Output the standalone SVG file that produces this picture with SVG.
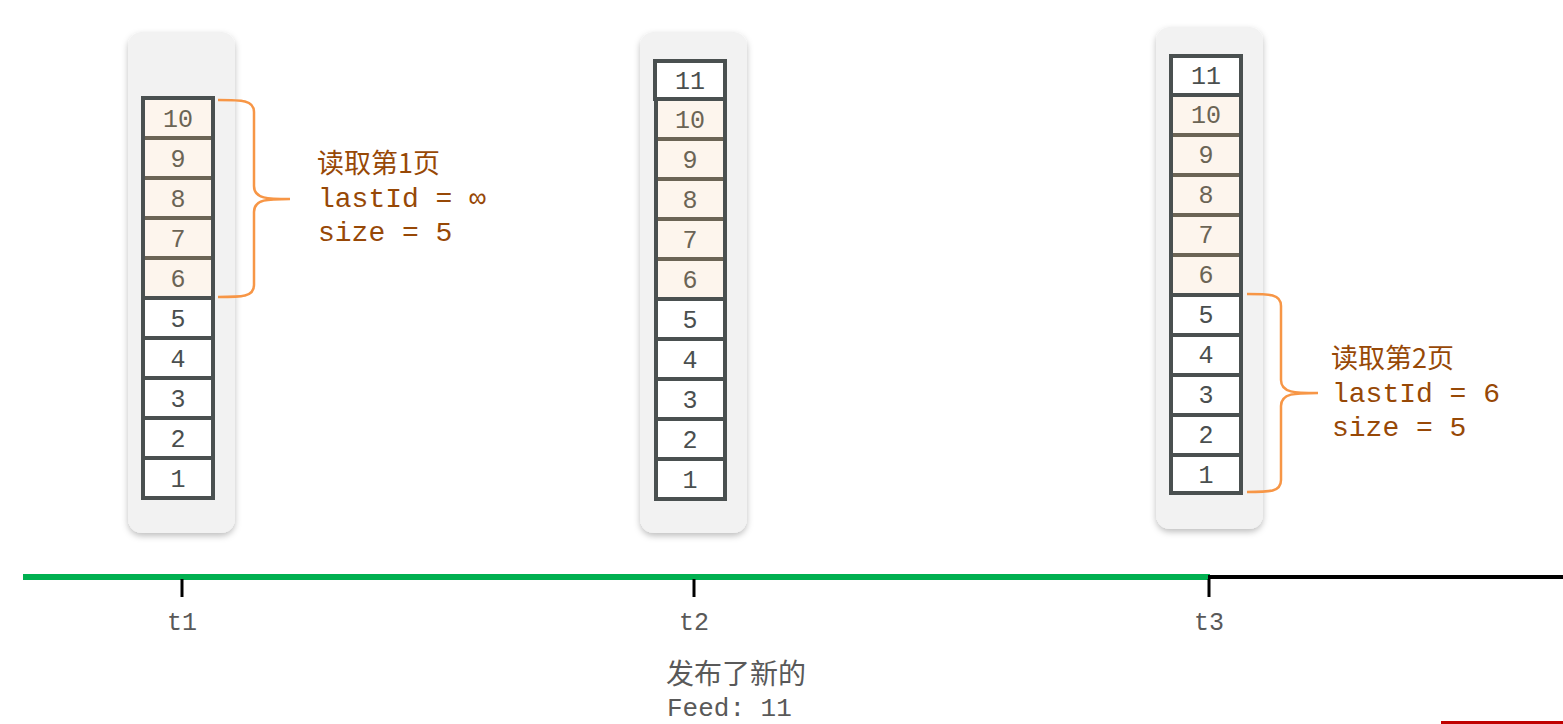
<svg xmlns="http://www.w3.org/2000/svg" width="1563" height="724" viewBox="0 0 1563 724">
<defs>
<filter id="sh" x="-20%" y="-10%" width="140%" height="120%">
<feDropShadow dx="0" dy="3" stdDeviation="3" flood-color="#000" flood-opacity="0.25"/>
</filter>
<style>
.panel{fill:#f2f2f2;filter:url(#sh)}
.cw{fill:#ffffff;stroke:#4a5050;stroke-width:4}
.cp{fill:#fdf5ed;stroke:#4a5050;stroke-width:4}
.div{stroke:#6b6455;stroke-width:4}
.nw{font-family:"Liberation Mono","DejaVu Sans Mono",monospace;font-size:25px;fill:#4a4f4f;text-anchor:middle}
.np{font-family:"Liberation Mono","DejaVu Sans Mono",monospace;font-size:25px;fill:#6b6455;text-anchor:middle}
.brace{fill:none;stroke:#f79646;stroke-width:2.5}
.lbl{font-family:"Liberation Mono","DejaVu Sans Mono",monospace;font-size:28px;fill:#974806}
.lblc{font-family:"Noto Sans CJK SC",sans-serif;font-size:27px;fill:#974806}
.t{font-family:"Liberation Mono","DejaVu Sans Mono",monospace;font-size:25px;fill:#595959;text-anchor:middle}
.tf{font-family:"Liberation Mono","DejaVu Sans Mono",monospace;font-size:26px;fill:#595959}
.tc{font-family:"Noto Sans CJK SC",sans-serif;font-size:28px;fill:#595959}
.tick{stroke:#000;stroke-width:3}
</style>
</defs>
<rect width="1563" height="724" fill="#ffffff"/>

<g id="stack-t1">
<rect class="panel" x="128" y="32" width="107" height="501" rx="14"/>
<rect class="cp" x="143" y="98" width="70" height="40"/>
<rect class="cp" x="143" y="138" width="70" height="40"/>
<rect class="cp" x="143" y="178" width="70" height="40"/>
<rect class="cp" x="143" y="218" width="70" height="40"/>
<rect class="cp" x="143" y="258" width="70" height="40"/>
<line class="div" x1="145" y1="138" x2="211" y2="138"/>
<line class="div" x1="145" y1="178" x2="211" y2="178"/>
<line class="div" x1="145" y1="218" x2="211" y2="218"/>
<line class="div" x1="145" y1="258" x2="211" y2="258"/>
<rect class="cw" x="143" y="298" width="70" height="40"/>
<rect class="cw" x="143" y="338" width="70" height="40"/>
<rect class="cw" x="143" y="378" width="70" height="40"/>
<rect class="cw" x="143" y="418" width="70" height="40"/>
<rect class="cw" x="143" y="458" width="70" height="40"/>
<text class="np" x="178" y="127">10</text>
<text class="np" x="178" y="167">9</text>
<text class="np" x="178" y="207">8</text>
<text class="np" x="178" y="247">7</text>
<text class="np" x="178" y="287">6</text>
<text class="nw" x="178" y="327">5</text>
<text class="nw" x="178" y="367">4</text>
<text class="nw" x="178" y="407">3</text>
<text class="nw" x="178" y="447">2</text>
<text class="nw" x="178" y="487">1</text>
</g>

<g id="stack-t2">
<rect class="panel" x="640" y="32" width="107" height="501" rx="14"/>
<rect class="cw" x="655" y="61" width="70" height="38"/>
<rect class="cp" x="656" y="99" width="69" height="40"/>
<rect class="cp" x="656" y="139" width="69" height="40"/>
<rect class="cp" x="656" y="179" width="69" height="40"/>
<rect class="cp" x="656" y="219" width="69" height="40"/>
<rect class="cp" x="656" y="259" width="69" height="40"/>
<line class="div" x1="658" y1="139" x2="723" y2="139"/>
<line class="div" x1="658" y1="179" x2="723" y2="179"/>
<line class="div" x1="658" y1="219" x2="723" y2="219"/>
<line class="div" x1="658" y1="259" x2="723" y2="259"/>
<rect class="cw" x="656" y="299" width="69" height="40"/>
<rect class="cw" x="656" y="339" width="69" height="40"/>
<rect class="cw" x="656" y="379" width="69" height="40"/>
<rect class="cw" x="656" y="419" width="69" height="40"/>
<rect class="cw" x="656" y="459" width="69" height="40"/>
<text class="nw" x="690" y="89">11</text>
<text class="np" x="690" y="128">10</text>
<text class="np" x="690" y="168">9</text>
<text class="np" x="690" y="208">8</text>
<text class="np" x="690" y="248">7</text>
<text class="np" x="690" y="288">6</text>
<text class="nw" x="690" y="328">5</text>
<text class="nw" x="690" y="368">4</text>
<text class="nw" x="690" y="408">3</text>
<text class="nw" x="690" y="448">2</text>
<text class="nw" x="690" y="488">1</text>
</g>

<g id="stack-t3">
<rect class="panel" x="1156" y="27" width="107" height="502" rx="14"/>
<rect class="cw" x="1171" y="56" width="70" height="39"/>
<rect class="cp" x="1171" y="95" width="70" height="40"/>
<rect class="cp" x="1171" y="135" width="70" height="40"/>
<rect class="cp" x="1171" y="175" width="70" height="40"/>
<rect class="cp" x="1171" y="215" width="70" height="40"/>
<rect class="cp" x="1171" y="255" width="70" height="40"/>
<line class="div" x1="1173" y1="135" x2="1239" y2="135"/>
<line class="div" x1="1173" y1="175" x2="1239" y2="175"/>
<line class="div" x1="1173" y1="215" x2="1239" y2="215"/>
<line class="div" x1="1173" y1="255" x2="1239" y2="255"/>
<rect class="cw" x="1171" y="295" width="70" height="40"/>
<rect class="cw" x="1171" y="335" width="70" height="40"/>
<rect class="cw" x="1171" y="375" width="70" height="40"/>
<rect class="cw" x="1171" y="415" width="70" height="40"/>
<rect class="cw" x="1171" y="455" width="70" height="38"/>
<text class="nw" x="1206" y="84">11</text>
<text class="np" x="1206" y="123">10</text>
<text class="np" x="1206" y="163">9</text>
<text class="np" x="1206" y="203">8</text>
<text class="np" x="1206" y="243">7</text>
<text class="np" x="1206" y="283">6</text>
<text class="nw" x="1206" y="323">5</text>
<text class="nw" x="1206" y="363">4</text>
<text class="nw" x="1206" y="403">3</text>
<text class="nw" x="1206" y="443">2</text>
<text class="nw" x="1206" y="483">1</text>
</g>

<g id="connectors">
<path class="brace" d="M218,100 C242,100 254,100 254,112 L254,186 C254,199 268,199 290,199 C268,199 254,199 254,212 L254,285 C254,297 242,297 218,297"/>
<path class="brace" d="M1247,294 C1270,294 1281,294 1281,306 L1281,380 C1281,393 1295,393 1318,393 C1295,393 1281,393 1281,406 L1281,480 C1281,492 1270,492 1247,492"/>
<line x1="23" y1="577" x2="1210" y2="577" stroke="#00b050" stroke-width="6"/>
<line x1="1208" y1="577" x2="1563" y2="577" stroke="#000" stroke-width="4"/>
<line class="tick" x1="182" y1="579" x2="182" y2="597"/>
<line class="tick" x1="694" y1="579" x2="694" y2="597"/>
<line class="tick" x1="1209" y1="579" x2="1209" y2="597"/>
</g>

<g id="label-page1">
<text class="lblc" x="317" y="173">读取第1页</text>
<text class="lbl" x="318" y="207">lastId = ∞</text>
<text class="lbl" x="318" y="241">size = 5</text>
</g>

<g id="label-page2">
<text class="lblc" x="1331" y="368">读取第2页</text>
<text class="lbl" x="1332" y="402">lastId = 6</text>
<text class="lbl" x="1332" y="436">size = 5</text>
</g>

<g id="time-labels">
<text class="t" x="182" y="630">t1</text>
<text class="t" x="694" y="630">t2</text>
<text class="t" x="1209" y="630">t3</text>
<text class="tc" x="666" y="684">发布了新的</text>
<text class="tf" x="667" y="716">Feed: 11</text>
</g>

<line x1="1441" y1="722.5" x2="1563" y2="722.5" stroke="#c00000" stroke-width="3"/>
</svg>
